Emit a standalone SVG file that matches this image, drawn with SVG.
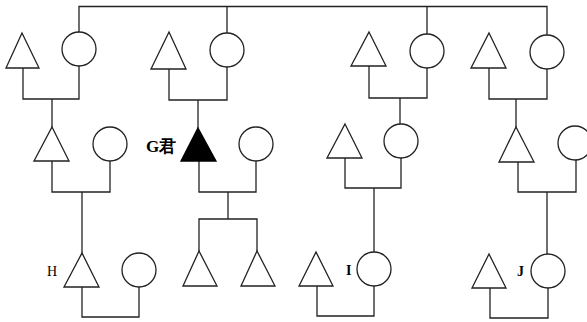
<svg xmlns="http://www.w3.org/2000/svg" width="587" height="322" viewBox="0 0 587 322">
<style>
.s{fill:#fff;stroke:#222;stroke-width:1.3}
.f{fill:#000;stroke:#000;stroke-width:1.3}
.c{fill:none;stroke:#222;stroke-width:1.3}
.t{font-family:"Liberation Serif",serif;fill:#000}
</style>
<rect width="587" height="322" fill="#fff"/>
<g id="connectors" class="c">
<polyline points="79,32 79,6.5 547,6.5 547,35"/>
<line x1="227" y1="6.5" x2="227" y2="33"/>
<line x1="427" y1="6.5" x2="427" y2="34"/>
<polyline points="23,68 23,99 79,99 79,66"/>
<line x1="52" y1="99" x2="52" y2="127"/>
<polyline points="169,69 169,100 227,100 227,67"/>
<line x1="198" y1="100" x2="198" y2="128"/>
<polyline points="369,66 369,98 427,98 427,68"/>
<line x1="400" y1="98" x2="400" y2="124"/>
<polyline points="489,68 489,99 547,99 547,69"/>
<line x1="516" y1="99" x2="516" y2="127"/>
<polyline points="52,161 52,192 110,192 110,161"/>
<line x1="82" y1="192" x2="82" y2="253"/>
<polyline points="199,161 199,192 256,192 256,161"/>
<line x1="228" y1="192" x2="228" y2="219"/>
<polyline points="199,251 199,219 257,219 257,251"/>
<polyline points="345,158 345,188 401,188 401,158"/>
<line x1="374" y1="188" x2="374" y2="252"/>
<polyline points="518,162 518,192 576,192 576,160"/>
<line x1="547" y1="192" x2="547" y2="254"/>
<polyline points="82,287 82,317 139,317 139,287"/>
<polyline points="317,286 317,316 374,316 374,286"/>
<polyline points="490,288 490,318 548,318 548,288"/>
</g>
<g id="g1a"><polygon class="s" points="22,33 39,68 6,68"/></g>
<g id="g1b"><circle class="s" cx="79" cy="49" r="17"/></g>
<g id="g1c"><polygon class="s" points="169,32 186,69 151,69"/></g>
<g id="g1d"><circle class="s" cx="227" cy="50" r="17"/></g>
<g id="g1e"><polygon class="s" points="369,32 386,66 351,66"/></g>
<g id="g1f"><circle class="s" cx="427" cy="51" r="17"/></g>
<g id="g1g"><polygon class="s" points="489,33 506,68 471,68"/></g>
<g id="g1h"><circle class="s" cx="547" cy="52" r="17"/></g>
<g id="g2a"><polygon class="s" points="52,127 69,161 34,161"/></g>
<g id="g2b"><circle class="s" cx="110" cy="144" r="17"/></g>
<g id="G"><polygon class="f" points="198,128 216,161 181,161"/><text class="t" x="146" y="152" font-size="17" font-weight="bold">G君</text></g>
<g id="g2d"><circle class="s" cx="256" cy="144" r="17"/></g>
<g id="g2e"><polygon class="s" points="345,124 362,158 327,158"/></g>
<g id="g2f"><circle class="s" cx="401" cy="141" r="17"/></g>
<g id="g2g"><polygon class="s" points="516,127 534,162 499,162"/></g>
<g id="g2h"><circle class="s" cx="575" cy="143" r="17"/></g>
<g id="H"><polygon class="s" points="82,253 99,287 64,287"/><text class="t" x="47" y="276" font-size="14">H</text></g>
<g id="g3b"><circle class="s" cx="139" cy="270" r="17"/></g>
<g id="g3c"><polygon class="s" points="199,251 217,286 183,286"/></g>
<g id="g3d"><polygon class="s" points="257,251 275,286 241,286"/></g>
<g id="g3e"><polygon class="s" points="316,252 333,286 299,286"/></g>
<g id="I"><circle class="s" cx="374" cy="269" r="17"/><text class="t" x="346" y="275" font-size="14" font-weight="bold">I</text></g>
<g id="g3g"><polygon class="s" points="489,254 506,288 472,288"/></g>
<g id="J"><circle class="s" cx="548" cy="271" r="17"/><text class="t" x="517" y="276" font-size="14" font-weight="bold">J</text></g>
</svg>
